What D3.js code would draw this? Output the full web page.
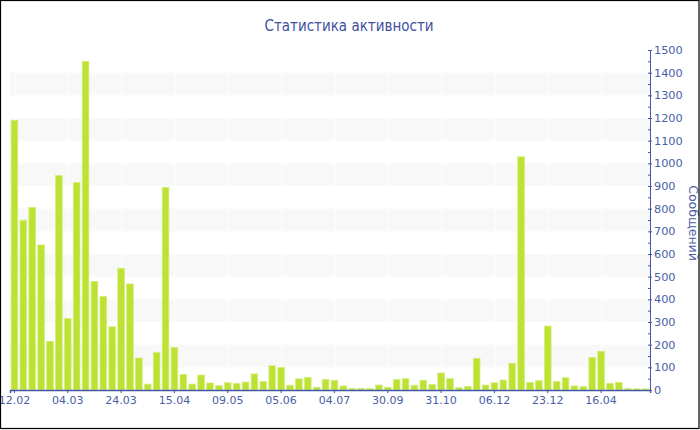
<!DOCTYPE html>
<html><head><meta charset="utf-8">
<script src="https://cdn.jsdelivr.net/npm/d3@7"></script>
<style>body{margin:0;background:#fff}svg{display:block}</style>
</head><body>
<script>
const categories = d3.range(72);
const values = [1190,749,806,640,215,946,316,916,1450,479,413,279,537,468,141,26,166,894,187,69,26,66,31,19,32,29,35,71,37,107,99,21,49,56,12,47,43,18,7,7,6,22,12,46,50,21,43,24,75,50,10,16,140,22,32,44,118,1029,34,41,282,37,54,18,15,143,171,29,34,6,5,5];
const tickIndex = [0,6,12,18,24,30,36,42,48,54,60,66];
const tickLabels = ["12.02","04.03","24.03","15.04","09.05","05.06","04.07","30.09","31.10","06.12","23.12","16.04"];
const yTicks = d3.range(0,1501,100);
const bandStarts = [100,300,500,700,900,1100,1300];
const title = "Статистика активности";
const yTitle = "Сообщений";

const W=700,H=430, L=10, R=650, T=50, B=390;
const svg=d3.select("body").append("svg").attr("width",W).attr("height",H);
const x=d3.scaleBand().domain(categories).range([L,R]).paddingInner(0.25).paddingOuter(0.125);
const y=d3.scaleLinear().domain([0,1500]).range([B,T]);
const axisCol="#4058a6", txtCol="#4a5ea6";

svg.append("g").selectAll("rect").data(bandStarts).join("rect")
  .attr("x",L).attr("width",R-L).attr("y",d=>y(d+100)).attr("height",d=>y(d)-y(d+100)).attr("fill","#f8f8f8");
svg.append("g").selectAll("line").data(tickIndex).join("line")
  .attr("x1",d=>x(d)+x.bandwidth()/2+0.5).attr("x2",d=>x(d)+x.bandwidth()/2+0.5)
  .attr("y1",T).attr("y2",B).attr("stroke","#fff").attr("stroke-width",1);

svg.append("g").selectAll("rect").data(values).join("rect")
  .attr("x",(d,i)=>x(i)).attr("width",x.bandwidth())
  .attr("y",d=>y(d)).attr("height",d=>B-y(d))
  .attr("fill","#bde234").attr("stroke","#d3ee7c").attr("stroke-width",0.8);

const xa=d3.axisBottom(x).tickValues(tickIndex).tickFormat(d=>tickLabels[tickIndex.indexOf(d)]).tickSizeOuter(0).tickSize(3).tickPadding(3);
const gx=svg.append("g").attr("transform",`translate(0,${B})`).call(xa);
gx.select(".domain").attr("stroke",axisCol).attr("stroke-width",1.5);
gx.selectAll(".tick line").attr("stroke",axisCol);
gx.selectAll("text").attr("fill",txtCol).attr("font-family","DejaVu Sans").attr("font-size",11);

const ya=d3.axisRight(y).tickValues(yTicks).tickFormat(d3.format("d")).tickSizeOuter(0).tickSize(2).tickPadding(2);
const gy=svg.append("g").attr("transform",`translate(${R},0)`).call(ya);
gy.select(".domain").attr("stroke",axisCol).attr("stroke-width",1);
gy.selectAll(".tick line").attr("stroke",axisCol).attr("x1",-2);
gy.selectAll("text").attr("fill",txtCol).attr("font-family","DejaVu Sans").attr("font-size",11.3);
gy.append("g").selectAll("line").data(d3.range(50,1500,100)).join("line")
  .attr("x1",-2).attr("x2",0).attr("y1",d=>y(d)+0.5).attr("y2",d=>y(d)+0.5).attr("stroke",axisCol);

svg.append("text").attr("x",349).attr("y",31).attr("text-anchor","middle")
  .attr("font-family","DejaVu Sans Condensed, DejaVu Sans").attr("font-stretch","condensed")
  .attr("font-size",15).attr("fill","#3e50a0").text(title);
svg.append("text").attr("transform","translate(689,223) rotate(90)").attr("text-anchor","middle")
  .attr("font-family","DejaVu Sans").attr("font-size",12.5).attr("fill","#4a5ea6").text(yTitle);

svg.append("rect").attr("x",0.5).attr("y",0.5).attr("width",698.5).attr("height",428)
  .attr("fill","none").attr("stroke","#000").attr("stroke-width",1.2);
</script>
</body></html>
